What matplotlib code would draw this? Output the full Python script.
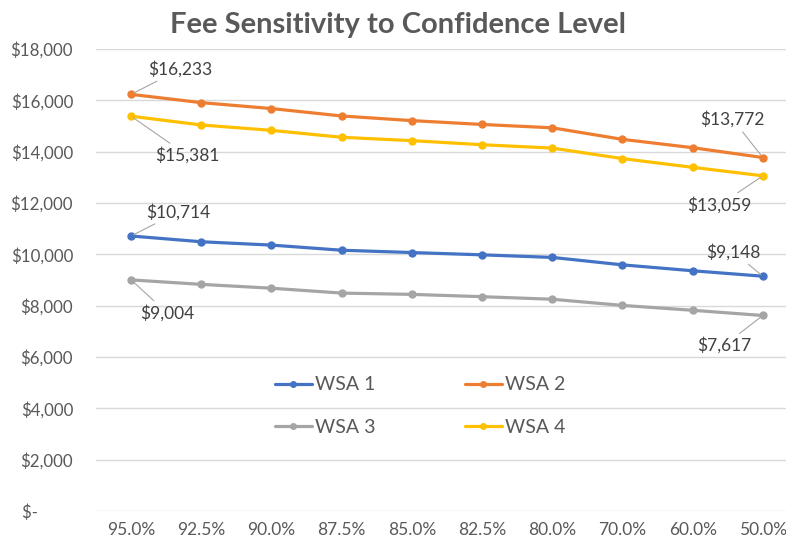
import matplotlib
matplotlib.use('Agg')
import matplotlib.pyplot as plt
from matplotlib.ticker import FuncFormatter

plt.rcParams['font.family'] = ['Lato', 'DejaVu Sans']

# Data
categories = ['95.0%', '92.5%', '90.0%', '87.5%', '85.0%', '82.5%', '80.0%', '70.0%', '60.0%', '50.0%']
wsa1 = [10714, 10490, 10360, 10160, 10070, 9980, 9880, 9590, 9360, 9148]
wsa2 = [16233, 15910, 15680, 15390, 15210, 15060, 14930, 14480, 14155, 13772]
wsa3 = [9004, 8830, 8680, 8490, 8440, 8350, 8250, 8010, 7820, 7617]
wsa4 = [15381, 15040, 14830, 14560, 14430, 14270, 14140, 13730, 13390, 13059]
series_names = ['WSA 1', 'WSA 2', 'WSA 3', 'WSA 4']
colors = ['#4472C4', '#ED7D31', '#A5A5A5', '#FFC000']

# label offsets (pixels) for first / last points of each series
first_offsets = [(47, 24), (49, 25), (36, -33), (56, -39)]
last_offsets = [(-29, 24), (-30, 38), (-39, -30), (-43, -29)]

fig = plt.figure(figsize=(7.86, 5.44), dpi=100)
ax = fig.add_axes([96 / 786, 33 / 544, 1 - 96 / 786, (511 - 49) / 544])

x = list(range(len(categories)))
all_series = [wsa1, wsa2, wsa3, wsa4]
lines = []
for vals, name, c, fo, lo in zip(all_series, series_names, colors, first_offsets, last_offsets):
    ln, = ax.plot(x, vals, color=c, lw=2.3, marker='o', markersize=5, label=name,
                  solid_capstyle='round', zorder=3)
    lines.append(ln)
    for idx, off in [(0, fo), (len(vals) - 1, lo)]:
        ax.annotate('${:,.0f}'.format(vals[idx]), xy=(x[idx], vals[idx]),
                    xytext=off, textcoords='offset pixels',
                    ha='center', va='center', fontsize=12.5, color='#404040',
                    arrowprops=dict(arrowstyle='-', color='#A6A6A6', lw=0.8,
                                    shrinkA=1, shrinkB=2))

ax.set_ylim(0, 18000)
ax.set_yticks(range(0, 18001, 2000))
# accounting style: zero shows as "$-" with trailing padding
ax.yaxis.set_major_formatter(FuncFormatter(
    lambda v, p: '$-        ' if v == 0 else '${:,.0f}'.format(v)))
ax.set_xlim(-0.5, 9.33)
ax.set_xticks(x)
ax.set_xticklabels(categories)
ax.tick_params(axis='both', length=0, colors='#595959')
ax.tick_params(axis='y', pad=16.5, labelsize=12.2)
ax.tick_params(axis='x', pad=8, labelsize=12.5)
ax.grid(axis='y', color='#D9D9D9', lw=1)
ax.set_axisbelow(True)
for s in ax.spines.values():
    s.set_visible(False)

fig.text(398 / 786, 1 - 33 / 544, 'Fee Sensitivity to Confidence Level',
         ha='center', va='baseline', fontsize=21, fontweight='bold', color='#595959')

# legend filled row by row: WSA 1, WSA 2 / WSA 3, WSA 4
order = [0, 2, 1, 3]
ax.legend([lines[i] for i in order], [series_names[i] for i in order],
          loc='center', bbox_to_anchor=(420 / 786, 1 - 406 / 544),
          bbox_transform=fig.transFigure, ncol=2, frameon=False,
          fontsize=14, handlelength=1.9, handletextpad=0.15,
          columnspacing=4.6, labelspacing=1.3, labelcolor='#595959',
          markerscale=0.8)

fig.savefig('out.png', dpi=100)
